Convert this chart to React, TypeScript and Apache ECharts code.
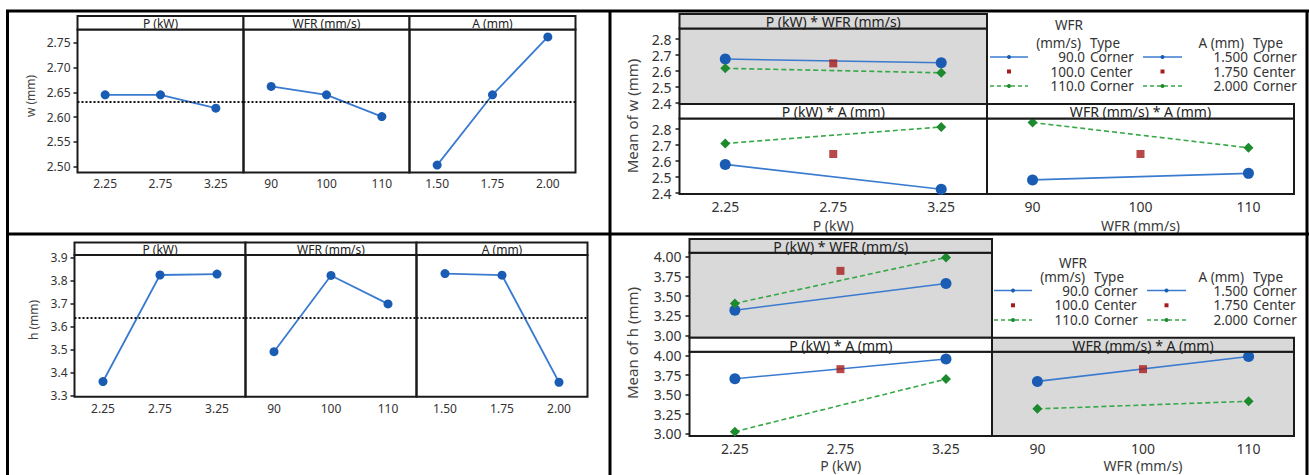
import React, { useEffect, useRef } from "react";
import * as echarts from "echarts";

// ---------- data ----------
const factorNames = ["P (kW)", "WFR (mm/s)", "A (mm)"];
const pLabels = ["2.25", "2.75", "3.25"];
const wfrLabels = ["90", "100", "110"];
const aLabels = ["1.50", "1.75", "2.00"];
const pLevels = [2.25, 2.75, 3.25];
const wfrLevels = [90, 100, 110];

// main effects (w)
const wMainP = [2.645, 2.645, 2.618];
const wMainWFR = [2.662, 2.645, 2.601];
const wMainA = [2.503, 2.645, 2.762];
const wMean = 2.635;
const wMainTicks = [2.5, 2.55, 2.6, 2.65, 2.7, 2.75];

// main effects (h)
const hMainP = [3.361, 3.825, 3.829];
const hMainWFR = [3.491, 3.823, 3.699];
const hMainA = [3.831, 3.824, 3.358];
const hMean = 3.641;
const hMainTicks = [3.3, 3.4, 3.5, 3.6, 3.7, 3.8, 3.9];

// interactions (w): [low level, high level] corner means, center point
const wPW_90 = [2.676, 2.653];
const wPW_110 = [2.618, 2.59];
const wPW_center = 2.649;
const wPA_15 = [2.58, 2.425];
const wPA_20 = [2.711, 2.814];
const wPA_center = 2.645;
const wWA_15 = [2.483, 2.524];
const wWA_20 = [2.842, 2.684];
const wWA_center = 2.645;
const wIntTicks = [2.4, 2.5, 2.6, 2.7, 2.8];

// interactions (h)
const hPW_90 = [3.32, 3.66];
const hPW_110 = [3.405, 3.99];
const hPW_center = 3.82;
const hPA_15 = [3.704, 3.958];
const hPA_20 = [3.026, 3.7];
const hPA_center = 3.827;
const hWA_15 = [3.67, 3.99];
const hWA_20 = [3.318, 3.415];
const hWA_center = 3.827;
const hIntTicks = [3.0, 3.25, 3.5, 3.75, 4.0];

// legend
const wfrLegendLevels = ["90.0", "100.0", "110.0"];
const aLegendLevels = ["1.500", "1.750", "2.000"];
const typeLabels = ["Corner", "Center", "Corner"];

// ---------- style ----------
const FONT = '"Noto Sans", "Open Sans", sans-serif';
const C = {
  blue: "#1a5cb4",
  blueLine: "#3a7bd0",
  green: "#1e8a2e",
  greenLine: "#36a846",
  red: "#a51c1c",
  gray: "#d9d9d9",
  frame: "#1a1a1a",
  text: "#333333",
};

function txt(x: number, y: number, t: string, o: any = {}) {
  const style: any = {
    text: t,
    fontSize: o.size || 14,
    fontFamily: FONT,
    fill: o.color || C.text,
    align: o.align || "center",
    verticalAlign: o.va || "middle",
    textAlign: o.align || "center",
    textVerticalAlign: o.va || "middle",
  };
  if (o.lineHeight) style.lineHeight = o.lineHeight;
  return {
    type: "text",
    x,
    y,
    rotation: o.rotation || 0,
    z: 30,
    silent: true,
    style,
  };
}

function rect(x: number, y: number, w: number, h: number, fill: string, lw = 2) {
  return {
    type: "rect",
    z: 25,
    silent: true,
    shape: { x, y, width: w, height: h },
    style: { fill, stroke: C.frame, lineWidth: lw },
  };
}

function line(x1: number, y1: number, x2: number, y2: number, stroke: string, lw: number, dash?: number[]) {
  return {
    type: "line",
    z: 30,
    silent: true,
    shape: { x1, y1, x2, y2 },
    style: { stroke, lineWidth: lw, lineDash: dash || null },
  };
}

function buildOption() {
  const grids: any[] = [];
  const xAxes: any[] = [];
  const yAxes: any[] = [];
  const series: any[] = [];
  const graphic: any[] = [];

  const addGrid = (left: number, top: number, width: number, height: number, bg?: string) => {
    grids.push({
      left,
      top,
      width,
      height,
      show: true,
      borderColor: C.frame,
      borderWidth: 2,
      backgroundColor: bg || "transparent",
      containLabel: false,
    });
    return grids.length - 1;
  };

  // ----- main effects charts -----
  const mainCharts = [
    {
      lefts: [77.5, 243.5, 409.5],
      width: 166,
      top: 29.5,
      height: 143,
      stripTop: 16,
      min: 2.488,
      max: 2.777,
      ticks: wMainTicks,
      dec: 2,
      values: [wMainP, wMainWFR, wMainA],
      mean: wMean,
      margin: 5,
      title: "w (mm)",
      tx: 30,
      ty: 96,
    },
    {
      lefts: [74.5, 245.5, 416.5],
      width: 171,
      top: 255,
      height: 141.7,
      stripTop: 242.5,
      min: 3.295,
      max: 3.912,
      ticks: hMainTicks,
      dec: 1,
      values: [hMainP, hMainWFR, hMainA],
      mean: hMean,
      margin: 6,
      title: "h (mm)",
      tx: 33,
      ty: 320,
    },
  ];
  const cats = [pLabels, wfrLabels, aLabels];

  mainCharts.forEach((mc) => {
    mc.lefts.forEach((left, i) => {
      const gi = addGrid(left, mc.top, mc.width, mc.height);
      xAxes.push({
        gridIndex: gi,
        type: "category",
        data: cats[i],
        boundaryGap: true,
        axisLine: { show: false },
        axisTick: { show: false },
        splitLine: { show: false },
        axisLabel: { margin: mc.margin, fontSize: 12, color: C.text, fontFamily: FONT },
      });
      yAxes.push({
        gridIndex: gi,
        type: "value",
        min: mc.min,
        max: mc.max,
        axisLine: { show: false },
        splitLine: { show: false },
        axisTick: {
          show: i === 0,
          length: 4,
          customValues: mc.ticks,
          lineStyle: { color: C.frame, width: 1.5 },
        },
        axisLabel: {
          show: i === 0,
          customValues: mc.ticks,
          margin: 7,
          fontSize: 12,
          color: C.text,
          fontFamily: FONT,
          formatter: (v: number) => v.toFixed(mc.dec),
        },
      });
      series.push({
        type: "line",
        xAxisIndex: gi,
        yAxisIndex: gi,
        data: mc.values[i],
        symbol: "circle",
        symbolSize: 9,
        itemStyle: { color: C.blue },
        lineStyle: { color: C.blueLine, width: 1.8 },
        markLine: {
          silent: true,
          symbol: "none",
          label: { show: false },
          lineStyle: { type: [2, 2], color: "#111", width: 2 },
          data: [{ yAxis: mc.mean }],
        },
      });
      // strip
      graphic.push(rect(left, mc.stripTop, mc.width, mc.top - mc.stripTop, "#ffffff"));
      graphic.push(txt(left + mc.width / 2, (mc.stripTop + mc.top) / 2 + 0.5, factorNames[i], { size: 12, color: "#222" }));
    });
    graphic.push(txt(mc.tx, mc.ty, mc.title, { size: 12, rotation: Math.PI / 2, color: "#444" }));
  });

  // ----- interaction charts -----
  const intCharts = [
    {
      colL: 679.5,
      colM: 987,
      colR: 1294,
      ulStrip: 14,
      ulTop: 28.5,
      ulBottom: 104,
      llStrip: 104,
      llTop: 118.5,
      llBottom: 194,
      min: 2.395,
      max: 2.867,
      ticks: wIntTicks,
      dec: 1,
      pRange: [2.038, 3.462],
      wRange: [85.78, 114.22],
      bg: [C.gray, "#ffffff", "#ffffff"],
      pw: [wPW_90, wPW_110, wPW_center],
      pa: [wPA_15, wPA_20, wPA_center],
      wa: [wWA_15, wWA_20, wWA_center],
      margin: 5,
      titleY: 225.5,
      yTitle: "Mean of w (mm)",
      yTitleX: 632,
      yTitleY: 116,
      legY: [25, 43, 57, 71.5, 86],
      legDx: 0,
    },
    {
      colL: 689.5,
      colM: 992,
      colR: 1294,
      ulStrip: 239,
      ulTop: 252.7,
      ulBottom: 337.7,
      llStrip: 337.7,
      llTop: 351.7,
      llBottom: 436,
      min: 2.97,
      max: 4.051,
      ticks: hIntTicks,
      dec: 2,
      pRange: [2.035, 3.468],
      wRange: [85.7, 114.3],
      bg: [C.gray, "#ffffff", C.gray],
      pw: [hPW_90, hPW_110, hPW_center],
      pa: [hPA_15, hPA_20, hPA_center],
      wa: [hWA_15, hWA_20, hWA_center],
      margin: 5,
      titleY: 465.5,
      yTitle: "Mean of h (mm)",
      yTitleX: 632,
      yTitleY: 343,
      legY: [263, 277, 290.5, 305.3, 320],
      legDx: 4,
    },
  ];

  intCharts.forEach((ic) => {
    const panels = [
      { left: ic.colL, right: ic.colM, strip: ic.ulStrip, top: ic.ulTop, bottom: ic.ulBottom, xr: ic.pRange, xl: pLevels, d: ic.pw, name: "P (kW) * WFR (mm/s)", showX: false, showY: true, bg: ic.bg[0] },
      { left: ic.colL, right: ic.colM, strip: ic.llStrip, top: ic.llTop, bottom: ic.llBottom, xr: ic.pRange, xl: pLevels, d: ic.pa, name: "P (kW) * A (mm)", showX: true, showY: true, bg: ic.bg[1] },
      { left: ic.colM, right: ic.colR, strip: ic.llStrip, top: ic.llTop, bottom: ic.llBottom, xr: ic.wRange, xl: wfrLevels, d: ic.wa, name: "WFR (mm/s) * A (mm)", showX: true, showY: false, bg: ic.bg[2] },
    ];
    panels.forEach((p) => {
      const gi = addGrid(p.left, p.top, p.right - p.left, p.bottom - p.top, p.bg);
      const isP = p.xl === pLevels;
      xAxes.push({
        gridIndex: gi,
        type: "value",
        min: p.xr[0],
        max: p.xr[1],
        axisLine: { show: false },
        axisTick: { show: false },
        splitLine: { show: false },
        axisLabel: {
          show: p.showX,
          customValues: p.xl,
          margin: ic.margin,
          fontSize: 14,
          color: C.text,
          fontFamily: FONT,
          formatter: (v: number) => (isP ? v.toFixed(2) : String(Math.round(v))),
        },
      });
      yAxes.push({
        gridIndex: gi,
        type: "value",
        min: ic.min,
        max: ic.max,
        axisLine: { show: false },
        splitLine: { show: false },
        axisTick: {
          show: p.showY,
          length: 4,
          customValues: ic.ticks,
          lineStyle: { color: C.frame, width: 1.5 },
        },
        axisLabel: {
          show: p.showY,
          customValues: ic.ticks,
          margin: 8,
          fontSize: 14,
          color: C.text,
          fontFamily: FONT,
          formatter: (v: number) => v.toFixed(ic.dec),
        },
      });
      const lo = p.xl[0];
      const mid = p.xl[1];
      const hi = p.xl[2];
      const [blueVals, greenVals, centerVal] = p.d as any;
      series.push({
        type: "line",
        xAxisIndex: gi,
        yAxisIndex: gi,
        data: [[lo, blueVals[0]], [hi, blueVals[1]]],
        symbol: "circle",
        symbolSize: 11,
        itemStyle: { color: C.blue },
        lineStyle: { color: C.blueLine, width: 1.6 },
        z: 3,
      });
      series.push({
        type: "line",
        xAxisIndex: gi,
        yAxisIndex: gi,
        data: [[lo, greenVals[0]], [hi, greenVals[1]]],
        symbol: "diamond",
        symbolSize: 10,
        itemStyle: { color: C.green },
        lineStyle: { color: C.greenLine, width: 1.6, type: [5, 3] },
        z: 3,
      });
      series.push({
        type: "scatter",
        xAxisIndex: gi,
        yAxisIndex: gi,
        data: [[mid, centerVal]],
        symbol: "rect",
        symbolSize: 8,
        itemStyle: { color: C.red },
        z: 4,
      });
      graphic.push(rect(p.left, p.strip, p.right - p.left, p.top - p.strip, p.bg));
      graphic.push(txt((p.left + p.right) / 2, (p.strip + p.top) / 2 + 0.5, p.name, { size: 14, color: "#222" }));
    });
    // axis titles
    const pMid = ic.colL + (ic.colM - ic.colL) / 2;
    const wMid = ic.colM + (ic.colR - ic.colM) / 2;
    graphic.push(txt(pMid, ic.titleY, factorNames[0], { size: 14, color: "#3c3c3c" }));
    graphic.push(txt(wMid, ic.titleY, factorNames[1], { size: 14, color: "#3c3c3c" }));
    graphic.push(txt(ic.yTitleX, ic.yTitleY, ic.yTitle, { size: 15, rotation: Math.PI / 2, color: "#444" }));

    // legends
    const [yH1, yH2, yR1, yR2, yR3] = ic.legY;
    const rows = [yR1, yR2, yR3];
    const d = ic.legDx;
    const LS = { size: 13.5, lineHeight: 13 };
    const legends = [
      { lx1: 990 + d, lx2: 1028 + d, head1: "WFR", head2: "(mm/s)", numR: 1085 + d, typeL: 1090 + d, levels: wfrLegendLevels, h1x: 1069 + d },
      { lx1: 1143 + d, lx2: 1182 + d, head1: "", head2: "A (mm)", numR: 1248, typeL: 1253, levels: aLegendLevels, h1x: 0 },
    ];
    legends.forEach((lg) => {
      if (lg.head1) graphic.push(txt(lg.h1x, yH1, lg.head1, LS));
      graphic.push(txt(lg.numR - 4, yH2, lg.head2, { ...LS, align: "right" }));
      graphic.push(txt(lg.typeL, yH2, "Type", { ...LS, align: "left" }));
      rows.forEach((ry, k) => {
        graphic.push(txt(lg.numR, ry, lg.levels[k], { ...LS, align: "right" }));
        graphic.push(txt(lg.typeL, ry, typeLabels[k], { ...LS, align: "left" }));
      });
      const mx = (lg.lx1 + lg.lx2) / 2;
      graphic.push(line(lg.lx1, yR1, lg.lx2, yR1, C.blueLine, 1.6));
      graphic.push({ type: "circle", z: 31, silent: true, shape: { cx: mx, cy: yR1, r: 2 }, style: { fill: C.blue } });
      graphic.push({ type: "rect", z: 31, silent: true, shape: { x: mx - 2, y: yR2 - 2, width: 4, height: 4 }, style: { fill: C.red } });
      graphic.push(line(lg.lx1, yR3, lg.lx2, yR3, C.greenLine, 1.6, [4, 3]));
      graphic.push({ type: "circle", z: 31, silent: true, shape: { cx: mx, cy: yR3, r: 2 }, style: { fill: C.green } });
    });
  });

  // ----- table frame -----
  graphic.push(line(6, 11, 1309, 11, "#000", 3));
  graphic.push(line(7.5, 10, 7.5, 475, "#000", 3));
  graphic.push(line(610, 10, 610, 475, "#000", 3));
  graphic.push(line(1307, 10, 1307, 475, "#000", 3));
  graphic.push(line(6, 234, 1309, 234, "#000", 3));

  return {
    animation: false,
    backgroundColor: "#ffffff",
    grid: grids,
    xAxis: xAxes,
    yAxis: yAxes,
    series,
    graphic: { elements: graphic },
  };
}

export default function App() {
  const ref = useRef<HTMLDivElement | null>(null);
  useEffect(() => {
    if (!ref.current) return;
    const chart = echarts.init(ref.current, undefined, { renderer: "svg" });
    chart.setOption(buildOption() as any);
    return () => chart.dispose();
  }, []);
  return (
    <div
      ref={ref}
      style={{ position: "absolute", left: 0, top: 0, width: 1310, height: 475, background: "#fff" }}
    />
  );
}
